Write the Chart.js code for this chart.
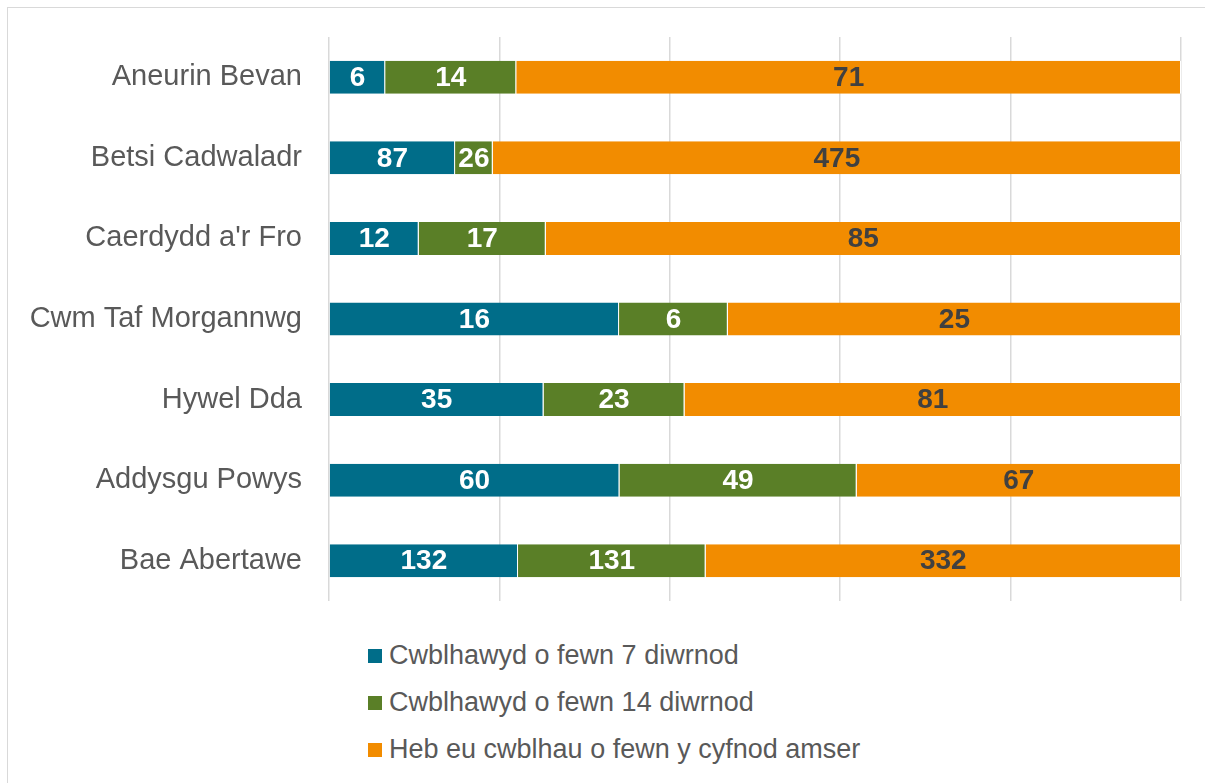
<!DOCTYPE html>
<html>
<head>
<meta charset="utf-8">
<script src="https://cdn.jsdelivr.net/npm/chart.js@4.4.0/dist/chart.umd.min.js"></script>
<style>
  body { margin: 0; background: #fff; font-family: "Liberation Sans", Arial, sans-serif; }
  .frame { position: absolute; left: 7px; top: 7px; width: 1210px; height: 800px; border: 1px solid #d9d9d9; box-sizing: border-box; }
  #wrap { position: absolute; left: 0; top: 0; width: 1205px; height: 620px; }
  #legend { position: absolute; left: 368px; top: 632px; color: #595959; font-size: 27px; }
  #legend div { height: 47px; line-height: 47px; white-space: nowrap; }
  #legend span { display: inline-block; width: 14px; height: 14px; margin-right: 7px; vertical-align: 1px; }
</style>
</head>
<body>
<div class="frame"></div>
<div id="wrap"><canvas id="myChart"></canvas></div>
<div id="legend"></div>
<script>
const boards = ['Aneurin Bevan', 'Betsi Cadwaladr', "Caerdydd a'r Fro", 'Cwm Taf Morgannwg', 'Hywel Dda', 'Addysgu Powys', 'Bae Abertawe'];
const within7 = [6, 87, 12, 16, 35, 60, 132];
const within14 = [14, 26, 17, 6, 23, 49, 131];
const notDone = [71, 475, 85, 25, 81, 67, 332];
const seriesNames = ['Cwblhawyd o fewn 7 diwrnod', 'Cwblhawyd o fewn 14 diwrnod', 'Heb eu cwblhau o fewn y cyfnod amser'];
const colors = ['#006d89', '#5a7f27', '#f28c00'];
const labelColors = ['#ffffff', '#ffffff', '#404040'];

const counts = [within7, within14, notDone];
const totals = boards.map((b, i) => within7[i] + within14[i] + notDone[i]);

// bars are drawn as share of the total, labels show the counts
const datasets = counts.map((arr, k) => ({
  label: seriesNames[k],
  data: arr.map((v, i) => v / totals[i] * 100),
  counts: arr,
  backgroundColor: colors[k],
  borderColor: '#ffffff',
  borderWidth: {left: 0, right: 1, top: 0, bottom: 0},
  borderSkipped: false,
  barPercentage: 0.41,
  categoryPercentage: 1
}));

const barLabels = {
  id: 'barLabels',
  afterDatasetsDraw(chart) {
    const ctx = chart.ctx;
    ctx.save();
    ctx.font = 'bold 28px "Liberation Sans", Arial, sans-serif';
    ctx.textAlign = 'center';
    ctx.textBaseline = 'middle';
    chart.data.datasets.forEach((ds, k) => {
      chart.getDatasetMeta(k).data.forEach((bar, i) => {
        const left = Math.min(bar.x, bar.base);
        const right = Math.max(bar.x, bar.base);
        ctx.fillStyle = labelColors[k];
        ctx.fillText(String(ds.counts[i]), (left + right) / 2, bar.y + 1);
      });
    });
    ctx.restore();
  }
};

const myChart = new Chart(document.getElementById('myChart').getContext('2d'), {
  type: 'bar',
  data: { labels: boards, datasets: datasets },
  options: {
    indexAxis: 'y',
    responsive: true,
    maintainAspectRatio: false,
    animation: false,
    layout: { padding: { left: 0, right: 24, top: 37, bottom: 19 } },
    plugins: { legend: { display: false }, tooltip: { enabled: false } },
    scales: {
      x: {
        stacked: true,
        min: 0,
        max: 100,
        ticks: { display: false, stepSize: 20 },
        grid: { color: '#d9d9d9', lineWidth: 1.5, drawTicks: false },
        border: { display: false },
        afterFit(scale) { scale.height = 0; }
      },
      y: {
        stacked: true,
        grid: { display: false, drawTicks: false },
        border: { display: false },
        ticks: { color: '#595959', font: { size: 29, family: '"Liberation Sans", Arial, sans-serif' }, padding: 27 },
        afterFit(scale) {
          scale.width = 329;
          scale.paddingTop = 0;
          scale.paddingBottom = 0;
        }
      }
    }
  },
  plugins: [barLabels]
});

const legend = document.getElementById('legend');
myChart.data.datasets.forEach(ds => {
  const row = document.createElement('div');
  const box = document.createElement('span');
  box.style.background = ds.backgroundColor;
  row.appendChild(box);
  row.appendChild(document.createTextNode(ds.label));
  legend.appendChild(row);
});
</script>
</body>
</html>
